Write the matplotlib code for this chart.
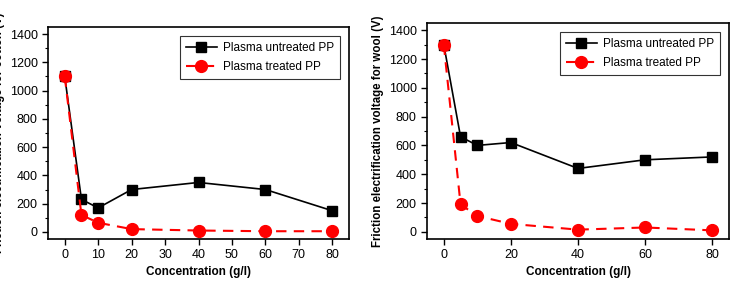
import matplotlib
matplotlib.use("Agg")
import matplotlib.pyplot as plt
from matplotlib.ticker import MultipleLocator

plt.rcParams['font.family'] = ['Liberation Sans', 'DejaVu Sans']

conc = [0, 5, 10, 20, 40, 60, 80]

# cotton
cotton_untreated = [1100, 230, 170, 300, 350, 300, 150]
cotton_treated = [1100, 120, 65, 20, 10, 5, 5]

# wool
wool_untreated = [1300, 660, 600, 620, 440, 500, 520]
wool_treated = [1300, 190, 110, 55, 15, 30, 10]

fig = plt.figure(figsize=(7.33, 2.84), dpi=100)
W, H = 733, 284

def panel(rect, untreated, treated, ylabel, xstep):
    l, t, r, b = rect
    ax = fig.add_axes([l / W, (H - b) / H, (r - l) / W, (b - t) / H])
    ax.plot(conc, untreated, color='black', lw=1.2, marker='s', ms=7,
            label='Plasma untreated PP', zorder=3)
    ax.plot(conc, treated, color='red', lw=1.5, ls=(0, (5, 3.5)), marker='o', ms=8.5,
            label='Plasma treated PP', zorder=4)
    ax.set_xlim(-5, 85)
    ax.set_ylim(-50, 1450)
    ax.xaxis.set_major_locator(MultipleLocator(xstep))
    ax.yaxis.set_major_locator(MultipleLocator(200))
    ax.yaxis.set_minor_locator(MultipleLocator(100))
    ax.tick_params(axis='both', which='major', direction='out', length=4, width=1, labelsize=9)
    ax.tick_params(axis='y', which='minor', direction='out', length=2.5, width=0.8)
    for s in ax.spines.values():
        s.set_linewidth(1.2)
    ax.set_xlabel('Concentration (g/l)', fontsize=8.5, fontweight='bold', labelpad=3)
    ax.set_ylabel(ylabel, fontsize=8.3, fontweight='bold')
    # label sits ~43px left of the spine in both panels (cut at the figure edge on the left one)
    ax.yaxis.set_label_coords(-43 / (r - l), 0.5)
    leg = ax.legend(loc='upper right', fontsize=8.5, frameon=True, fancybox=False,
                    edgecolor='black', borderaxespad=0.8, handlelength=2.6,
                    handletextpad=0.5, labelspacing=0.55, borderpad=0.5)
    leg.get_frame().set_linewidth(0.8)
    return ax

panel((48, 27, 349, 239), cotton_untreated, cotton_treated,
      'Friction electrification voltage for cotton (V)', 10)
panel((427, 23, 729, 239), wool_untreated, wool_treated,
      'Friction electrification voltage for wool (V)', 20)

fig.savefig('out.png', dpi=100)
